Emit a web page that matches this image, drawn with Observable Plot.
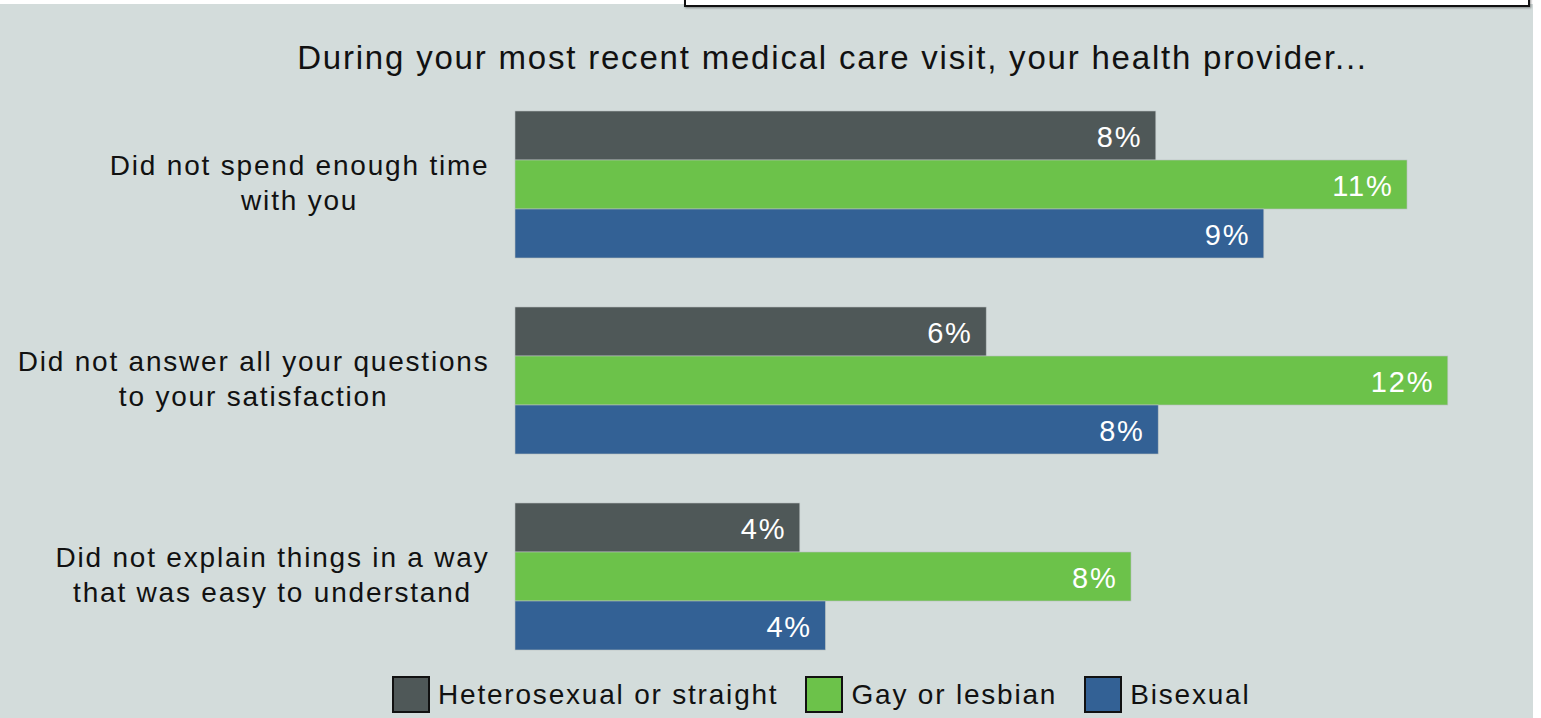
<!DOCTYPE html>
<html>
<head>
<meta charset="utf-8">
<script src="https://cdn.jsdelivr.net/npm/d3@7"></script>
<script src="https://cdn.jsdelivr.net/npm/@observablehq/plot@0.6"></script>
<style>
  html, body { margin: 0; padding: 0; background: #ffffff; }
  #root { position: relative; width: 1541px; height: 718px; overflow: hidden; font-family: "Liberation Sans", Arial, sans-serif; letter-spacing: 1.8px; }
  #panel { position: absolute; left: 0; top: 4px; width: 1533px; height: 714px; background: #d3dcdb; }
  #box { position: absolute; left: 684px; top: -12px; width: 842px; height: 15px; border: 2px solid #111; background: #fff; box-shadow: 1px 1px 2px rgba(0,0,0,0.4); }
  #title { position: absolute; left: 0; width: 1665px; top: 39px; text-align: center; font-size: 33px; color: #111; white-space: nowrap; }
  #chart { position: absolute; left: 0; top: 0; }
  #chart svg text { letter-spacing: 1.8px; }
  #legend { position: absolute; left: 392px; top: 676px; display: flex; align-items: center; font-size: 28px; color: #111; }
  .sw { width: 34px; height: 33px; border: 2px solid #111; margin-right: 8px; }
  .item { display: flex; align-items: center; margin-right: 27px; }
</style>
</head>
<body>
<div id="root">
  <div id="panel"></div>
  <div id="box"></div>
  <div id="title"></div>
  <div id="chart"></div>
  <div id="legend"></div>
</div>
<script>
const title = "During your most recent medical care visit, your health provider...";
const questions = [
  "Did not spend enough time\nwith you",
  "Did not answer all your questions\nto your satisfaction",
  "Did not explain things in a way\nthat was easy to understand"
];
const groups = ["Heterosexual or straight", "Gay or lesbian", "Bisexual"];
const colors = ["#4f5858", "#6cc24a", "#336195"];
const heterosexual = [8.01, 5.89, 3.56];
const gayLesbian = [11.15, 11.66, 7.70];
const bisexual = [9.36, 8.04, 3.88];

const series = [heterosexual, gayLesbian, bisexual];
const data = [];
questions.forEach((q, i) => {
  groups.forEach((g, j) => {
    data.push({question: q, group: g, value: series[j][i]});
  });
});

document.getElementById("title").textContent = title;

const plot = Plot.plot({
  width: 1541,
  height: 670,
  marginTop: 110,
  marginBottom: 20,
  marginLeft: 515,
  marginRight: 26,
  style: {background: "transparent", fontFamily: "'Liberation Sans', Arial, sans-serif"},
  x: {domain: [0, 12.5], axis: null},
  y: {domain: groups, padding: 0, axis: null},
  fy: {domain: questions, paddingInner: 0.25, paddingOuter: 0, label: null},
  color: {domain: groups, range: colors},
  marks: [
    Plot.barX(data, {x: "value", y: "group", fy: "question", fill: "group", stroke: "#b8c0c0", strokeWidth: 0.6}),
    Plot.text(data, {x: "value", y: "group", fy: "question", text: d => Math.round(d.value) + "%", textAnchor: "end", dx: -14, dy: 2, fill: "white", fontSize: 29}),
    Plot.axisFy({anchor: "left", tickSize: 0, tickPadding: 26, fontSize: 28, lineHeight: 1.28, dy: -4, textAnchor: "end", fill: "#111", label: null})
  ]
});
document.getElementById("chart").appendChild(plot);

// center the lines of each multi-line question label within its right-aligned block
plot.querySelectorAll("g[aria-label='fy-axis tick label'] text").forEach(t => {
  const b = t.getBBox();
  const w = b.width;
  t.setAttribute("text-anchor", "middle");
  t.querySelectorAll("tspan").forEach(s => s.setAttribute("x", String(b.x + w / 2)));
});

const legend = document.getElementById("legend");
groups.forEach((g, i) => {
  const item = document.createElement("div");
  item.className = "item";
  const sw = document.createElement("div");
  sw.className = "sw";
  sw.style.background = colors[i];
  const lab = document.createElement("span");
  lab.textContent = g;
  item.appendChild(sw);
  item.appendChild(lab);
  legend.appendChild(item);
});
</script>
</body>
</html>
